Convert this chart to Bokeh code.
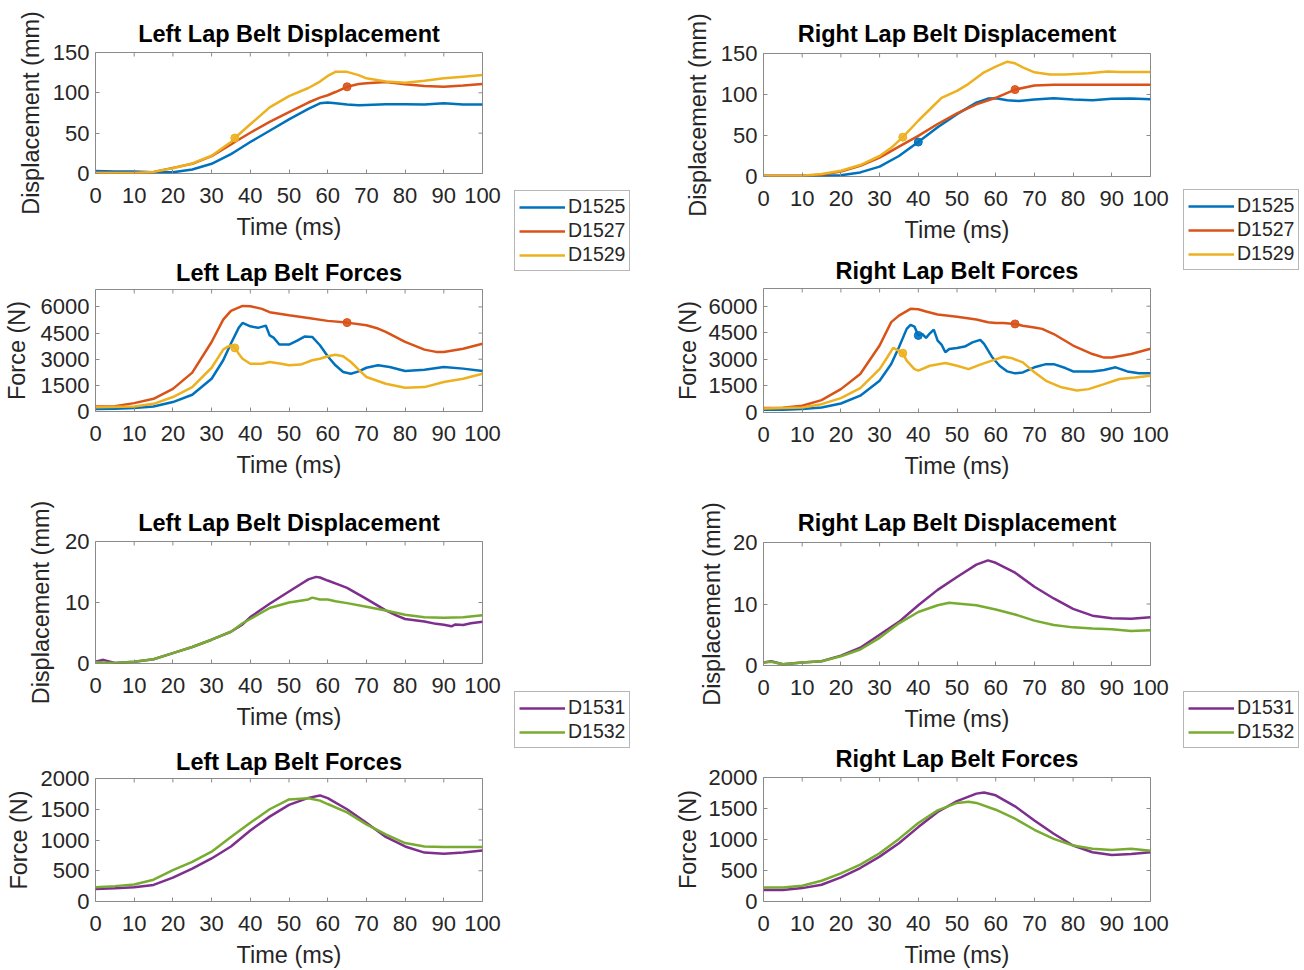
import math
from bokeh.plotting import figure
from bokeh.layouts import row, column
from bokeh.models import (Range1d, FixedTicker, Legend, LegendItem,
                          ColumnDataSource)
from bokeh.embed import file_html
from bokeh.resources import INLINE

FONT = "Liberation Sans"
BLUE, ORANGE, YELLOW = "#0072BD", "#D95319", "#EDB120"
PURPLE, GREEN = "#7E2F8E", "#77AC30"

time_ticks = [0, 10, 20, 30, 40, 50, 60, 70, 80, 90, 100]
disp_ticks_a = [0, 50, 100, 150]
force_ticks_a = [0, 1500, 3000, 4500, 6000]
disp_ticks_b = [0, 10, 20]
force_ticks_b = [0, 500, 1000, 1500, 2000]

# ---- Tests D1525 / D1527 / D1529 : left lap belt displacement (mm) ----
ld_t = [0, 5, 10, 15, 20, 25, 30, 35, 36, 40, 45, 50, 55, 58, 60, 62, 65, 68, 70, 75, 80, 85, 90, 95, 100]
ld_d1525 = [3, 2.5, 2.5, 1.5, 1.5, 5, 12, 24, 27, 39, 53, 67, 80, 87, 88, 87, 85.5, 84.5, 85, 86, 86, 85.5, 87, 85.5, 85.5]
ld_d1527 = [1, 0.5, 0.5, 2, 7, 12, 21.5, 36, 39, 50.5, 64, 76, 88, 94, 97, 101, 107.5, 111, 112, 113.5, 110.5, 108.5, 107.5, 109, 111]
ld_d1529 = [0.5, 0.5, 0.5, 2, 6.5, 12.5, 22, 39, 44, 61, 82, 96, 106, 114, 121, 126, 126, 122, 118, 114, 112.5, 115, 118, 120, 122]
ld_mark_t = [36, 65]
ld_mark_v = [44, 107.5]
ld_mark_c = [YELLOW, ORANGE]

# ---- left lap belt forces (N) ----
lf_t_d1525 = [0, 5, 10, 15, 20, 25, 30, 33, 35, 37, 38, 40, 42, 44, 45, 46, 47.5, 50, 52, 54, 56, 58, 60, 62, 64, 66, 68, 70, 73, 76, 80, 85, 90, 95, 100]
lf_d1525 = [150, 160, 200, 290, 540, 960, 1880, 2940, 3900, 4800, 5080, 4890, 4800, 4930, 4370, 4240, 3840, 3840, 4050, 4300, 4280, 3800, 3170, 2650, 2270, 2170, 2300, 2510, 2650, 2550, 2320, 2400, 2550, 2460, 2320]
lf_t_d1527 = [0, 5, 10, 15, 20, 25, 30, 33, 35, 38, 40, 43, 45, 50, 55, 60, 65, 70, 73, 75, 80, 85, 88, 90, 95, 100]
lf_d1527 = [280, 300, 480, 730, 1300, 2230, 3990, 5270, 5770, 6060, 6040, 5890, 5700, 5520, 5370, 5200, 5100, 4950, 4760, 4570, 3990, 3550, 3420, 3420, 3600, 3890]
lf_t_d1529 = [0, 10, 15, 20, 25, 30, 33, 34, 35, 36, 37, 38, 40, 43, 45, 48, 50, 53, 56, 58, 60, 62, 64, 66, 68, 70, 75, 80, 85, 90, 95, 100]
lf_d1529 = [250, 290, 440, 830, 1400, 2510, 3550, 3700, 3800, 3650, 3320, 3030, 2740, 2740, 2840, 2740, 2650, 2690, 2940, 3030, 3170, 3260, 3170, 2840, 2400, 1980, 1590, 1360, 1400, 1690, 1880, 2170]
lf_mark_t = [36, 65]
lf_mark_v = [3650, 5100]
lf_mark_c = [YELLOW, ORANGE]

# ---- right lap belt displacement (mm) ----
rd_t_d1525 = [0, 5, 10, 15, 20, 25, 30, 35, 40, 45, 50, 55, 58, 60, 63, 66, 70, 75, 80, 85, 90, 95, 100]
rd_d1525 = [0.5, 0.5, 0.5, 0.8, 1.6, 5, 12, 25, 42, 60, 76, 90, 95, 95.5, 93, 92, 94, 95.5, 94, 93, 94.7, 95, 94.3]
rd_t_d1527 = [0, 5, 10, 15, 20, 25, 30, 35, 40, 45, 50, 55, 60, 65, 70, 75, 80, 90, 100]
rd_d1527 = [1, 1, 1, 2, 6, 13, 23, 36.5, 49.5, 64, 77, 88, 96, 106, 111, 112, 112, 112, 112]
rd_t_d1529 = [0, 5, 10, 15, 20, 25, 30, 33, 36, 40, 43, 46, 50, 53, 57, 60, 63, 65, 67, 70, 74, 78, 84, 89, 92, 96, 100]
rd_d1529 = [0.5, 0.5, 1, 3, 7, 14, 25, 35, 48, 68, 82, 96, 104.5, 113, 127, 134, 140, 138, 133, 127, 124.5, 124.5, 126, 128, 127.5, 127.5, 127.5]
rd_mark_t = [36, 40, 65]
rd_mark_v = [48, 42, 106]
rd_mark_c = [YELLOW, BLUE, ORANGE]

# ---- right lap belt forces (N) ----
rf_t_d1525 = [0, 5, 10, 15, 20, 25, 30, 33, 35, 37, 38, 39, 40, 41, 42, 43, 44, 45, 46, 47, 48, 50, 52, 54, 56, 57, 59, 61, 63, 65, 67, 70, 73, 75, 78, 80, 85, 88, 91, 94, 97, 100]
rf_d1525 = [150, 160, 200, 280, 510, 950, 1790, 2740, 3680, 4720, 4950, 4850, 4350, 4440, 4210, 4470, 4680, 4060, 3830, 3400, 3580, 3640, 3720, 3960, 4100, 3870, 3150, 2640, 2320, 2210, 2260, 2550, 2730, 2730, 2510, 2320, 2320, 2400, 2550, 2320, 2210, 2210]
rf_t_d1527 = [0, 5, 10, 15, 20, 25, 30, 33, 35, 38, 40, 42, 45, 50, 55, 58, 60, 62, 65, 67, 70, 72, 75, 80, 85, 88, 90, 95, 100]
rf_d1527 = [250, 270, 380, 700, 1320, 2170, 3780, 5100, 5470, 5850, 5830, 5700, 5530, 5400, 5250, 5100, 5050, 5050, 5000, 4900, 4800, 4720, 4430, 3780, 3300, 3100, 3100, 3300, 3600]
rf_t_d1529 = [0, 10, 15, 20, 25, 30, 32, 33.5, 35, 36, 37, 39, 40, 43, 47, 50, 53, 56, 59, 62, 64, 67, 70, 73, 77, 81, 84, 88, 92, 96, 100]
rf_d1529 = [220, 280, 470, 810, 1380, 2450, 3120, 3650, 3480, 3350, 2930, 2450, 2360, 2640, 2790, 2640, 2450, 2700, 2930, 3150, 3080, 2830, 2270, 1790, 1420, 1240, 1320, 1600, 1890, 1980, 2080]
rf_mark_t = [36, 40, 65]
rf_mark_v = [3350, 4350, 5000]
rf_mark_c = [YELLOW, BLUE, ORANGE]

# ---- Tests D1531 / D1532 : left lap belt displacement (mm) ----
ld2_t_d1531 = [0, 2, 5, 10, 15, 20, 25, 30, 35, 38, 40, 45, 50, 53, 55, 57, 58, 60, 63, 65, 70, 75, 78, 80, 85, 88, 90, 92, 93, 95, 97, 100]
ld2_d1531 = [0.3, 0.6, 0.1, 0.3, 0.7, 1.7, 2.7, 3.9, 5.2, 6.4, 7.6, 9.8, 11.8, 13, 13.8, 14.2, 14.1, 13.6, 12.9, 12.4, 10.6, 8.7, 7.8, 7.3, 6.9, 6.5, 6.35, 6.1, 6.4, 6.3, 6.6, 6.85]
ld2_t_d1532 = [0, 5, 10, 15, 20, 25, 30, 35, 38, 40, 45, 50, 55, 56, 58, 60, 62, 65, 70, 75, 80, 85, 90, 95, 100]
ld2_d1532 = [0.2, 0.1, 0.3, 0.7, 1.7, 2.7, 3.9, 5.2, 6.6, 7.3, 9.1, 10, 10.5, 10.8, 10.5, 10.5, 10.2, 9.9, 9.3, 8.7, 8.0, 7.6, 7.5, 7.6, 7.9]

# ---- left lap belt forces (N) ----
lf2_t = [0, 5, 10, 15, 20, 25, 30, 35, 40, 45, 50, 55, 58, 60, 65, 70, 75, 80, 85, 90, 95, 100]
lf2_d1531 = [205, 215, 232, 270, 387, 536, 700, 895, 1155, 1380, 1570, 1685, 1725, 1680, 1500, 1280, 1050, 895, 795, 775, 795, 830]
lf2_d1532 = [232, 250, 276, 355, 510, 645, 810, 1050, 1280, 1500, 1660, 1680, 1640, 1585, 1450, 1255, 1090, 950, 895, 885, 885, 885]

# ---- right lap belt displacement (mm) ----
rd2_t_d1531 = [0, 2, 5, 10, 15, 20, 25, 30, 35, 40, 45, 50, 55, 58, 60, 65, 70, 75, 80, 85, 90, 95, 100]
rd2_d1531 = [0.5, 0.7, 0.2, 0.5, 0.7, 1.6, 2.9, 5, 7.1, 9.8, 12.3, 14.4, 16.4, 17.1, 16.7, 15.1, 12.8, 10.9, 9.2, 8.1, 7.7, 7.6, 7.85]
rd2_t_d1532 = [0, 2, 5, 10, 15, 20, 25, 30, 35, 40, 45, 48, 50, 55, 60, 65, 70, 75, 80, 85, 90, 95, 100]
rd2_d1532 = [0.5, 0.6, 0.2, 0.5, 0.7, 1.5, 2.6, 4.5, 6.85, 8.7, 9.8, 10.2, 10.1, 9.8, 9.1, 8.3, 7.3, 6.6, 6.2, 6.0, 5.9, 5.6, 5.75]

# ---- right lap belt forces (N) ----
rf2_t_d1531 = [0, 5, 10, 15, 20, 25, 30, 35, 40, 45, 50, 55, 57, 60, 65, 70, 75, 80, 85, 90, 95, 100]
rf2_d1531 = [184, 184, 216, 270, 390, 540, 724, 940, 1200, 1443, 1620, 1740, 1757, 1713, 1535, 1308, 1092, 903, 795, 751, 768, 795]
rf2_t_d1532 = [0, 5, 10, 15, 20, 25, 30, 35, 40, 45, 50, 53, 55, 60, 65, 70, 75, 80, 85, 90, 95, 100]
rf2_d1532 = [227, 227, 254, 335, 454, 595, 778, 1010, 1265, 1470, 1590, 1610, 1590, 1480, 1335, 1157, 1010, 903, 850, 832, 850, 820]

AXIS_GRAY = "#8a8a8a"
TEXT = "#262626"
LW = 2.5


def panel(title, ylabel, y_end, y_ticks, series, marks, width, height,
          borders, ylab_standoff, title_standoff):
    left, right, top, bottom = borders
    p = figure(width=width, height=height, title=title,
               x_range=Range1d(0, 100), y_range=Range1d(0, y_end),
               output_backend="svg", toolbar_location=None,
               min_border_left=left, min_border_right=right,
               min_border_top=top, min_border_bottom=bottom)
    p.background_fill_color = "white"
    p.border_fill_color = "white"
    p.outline_line_color = AXIS_GRAY
    p.outline_line_width = 1
    p.grid.visible = False

    p.title.text_font = FONT
    p.title.text_font_size = "23.5px"
    p.title.text_font_style = "bold"
    p.title.text_color = "#000000"
    p.title.align = "center"
    p.title.standoff = title_standoff

    xa = p.xaxis[0]
    xa.ticker = FixedTicker(ticks=time_ticks)
    xa.axis_label = "Time (ms)"
    xa.major_label_standoff = 14
    xa.axis_label_standoff = 8

    ya = p.yaxis[0]
    ya.ticker = FixedTicker(ticks=y_ticks)
    ya.axis_label = ylabel
    ya.major_label_standoff = 6
    ya.axis_label_standoff = ylab_standoff

    for ax in (xa, ya):
        ax.axis_line_color = None
        ax.major_tick_in = 4
        ax.major_tick_out = 0
        ax.major_tick_line_color = AXIS_GRAY
        ax.minor_tick_line_color = None
        ax.major_label_text_font = FONT
        ax.major_label_text_font_size = "22px"
        ax.major_label_text_color = TEXT
        ax.axis_label_text_font = FONT
        ax.axis_label_text_font_size = "23.5px"
        ax.axis_label_text_font_style = "normal"
        ax.axis_label_text_color = TEXT

    # inward box ticks along the top and right edges (half of each dash is clipped)
    p.scatter(time_ticks, [y_end] * len(time_ticks), marker="dash", angle=math.pi / 2,
              size=8, line_color=AXIS_GRAY, line_width=1)
    p.scatter([100] * len(y_ticks), y_ticks, marker="dash",
              size=8, line_color=AXIS_GRAY, line_width=1)

    for t, v, c in series:
        p.line(t, v, line_color=c, line_width=LW)

    if marks is not None:
        mt, mv, mc = marks
        src = ColumnDataSource(dict(t=mt, v=mv, c=mc))
        p.scatter("t", "v", source=src, size=8, marker="circle",
                  fill_color="c", line_color="c", fill_alpha=0.9)
    return p


LW_L, LW_R = 510, 528
BL = (94, 28)
BR = (113, 28)

p1 = panel("Left Lap Belt Displacement", "Displacement (mm)", 150, disp_ticks_a,
           [(ld_t, ld_d1525, BLUE), (ld_t, ld_d1527, ORANGE), (ld_t, ld_d1529, YELLOW)],
           (ld_mark_t, ld_mark_v, ld_mark_c), LW_L, 250, BL + (52, 77), 6, 11)
p2 = panel("Left Lap Belt Forces", "Force (N)", 7000, force_ticks_a,
           [(lf_t_d1525, lf_d1525, BLUE), (lf_t_d1527, lf_d1527, ORANGE),
            (lf_t_d1529, lf_d1529, YELLOW)],
           (lf_mark_t, lf_mark_v, lf_mark_c), LW_L, 240, BL + (39, 79), 8, 8)
p5 = panel("Left Lap Belt Displacement", "Displacement (mm)", 20, disp_ticks_b,
           [(ld2_t_d1531, ld2_d1531, PURPLE), (ld2_t_d1532, ld2_d1532, GREEN)],
           None, LW_L, 248, BL + (51, 75), 8, 11)
p6 = panel("Left Lap Belt Forces", "Force (N)", 2000, force_ticks_b,
           [(lf2_t, lf2_d1531, PURPLE), (lf2_t, lf2_d1532, GREEN)],
           None, LW_L, 232, BL + (40, 68), 6, 7)

p3 = panel("Right Lap Belt Displacement", "Displacement (mm)", 150, disp_ticks_a,
           [(rd_t_d1525, rd_d1525, BLUE), (rd_t_d1527, rd_d1527, ORANGE),
            (rd_t_d1529, rd_d1529, YELLOW)],
           (rd_mark_t, rd_mark_v, rd_mark_c), LW_R, 250, BR + (53, 74), 7, 13)
p4 = panel("Right Lap Belt Forces", "Force (N)", 7000, force_ticks_a,
           [(rf_t_d1525, rf_d1525, BLUE), (rf_t_d1527, rf_d1527, ORANGE),
            (rf_t_d1529, rf_d1529, YELLOW)],
           (rf_mark_t, rf_mark_v, rf_mark_c), LW_R, 240, BR + (37, 78), 5, 10)
p7 = panel("Right Lap Belt Displacement", "Displacement (mm)", 20, disp_ticks_b,
           [(rd2_t_d1531, rd2_d1531, PURPLE), (rd2_t_d1532, rd2_d1532, GREEN)],
           None, LW_R, 248, BR + (52, 73), 5, 13)
p8 = panel("Right Lap Belt Forces", "Force (N)", 2000, force_ticks_b,
           [(rf2_t_d1531, rf2_d1531, PURPLE), (rf2_t_d1532, rf2_d1532, GREEN)],
           None, LW_R, 232, BR + (39, 69), 5, 11)


def legend_strip(width, groups):
    f = figure(width=width, height=970, x_range=Range1d(0, 1), y_range=Range1d(0, 1),
               output_backend="svg", toolbar_location=None,
               x_axis_location=None, y_axis_location=None,
               min_border=0)
    f.outline_line_color = None
    f.grid.visible = False
    for loc, entries in groups:
        items = []
        for name, color in entries:
            # legend-only renderer, kept outside the visible range
            r = f.line([-2, -1], [-2, -1], line_color=color, line_width=LW)
            items.append(LegendItem(label=name, renderers=[r]))
        leg = Legend(items=items, location=loc,
                     label_text_font=FONT, label_text_font_size="19.5px",
                     label_text_color=TEXT,
                     border_line_color="#6e6e6e", border_line_width=1,
                     background_fill_color="white", background_fill_alpha=1,
                     glyph_width=46, glyph_height=20, label_height=20,
                     label_standoff=3, padding=4, spacing=1, margin=0)
        f.add_layout(leg, "center")
    return f


series_a = [("D1525", BLUE), ("D1527", ORANGE), ("D1529", YELLOW)]
series_b = [("D1531", PURPLE), ("D1532", GREEN)]

legL = legend_strip(140, [((4, 699), series_a), ((4, 222), series_b)])
legR = legend_strip(126, [((5, 700), series_a), ((5, 222), series_b)])

layout = row(column(p1, p2, p5, p6), legL, column(p3, p4, p7, p8), legR)

open("out.html", "w").write(file_html(layout, INLINE))
